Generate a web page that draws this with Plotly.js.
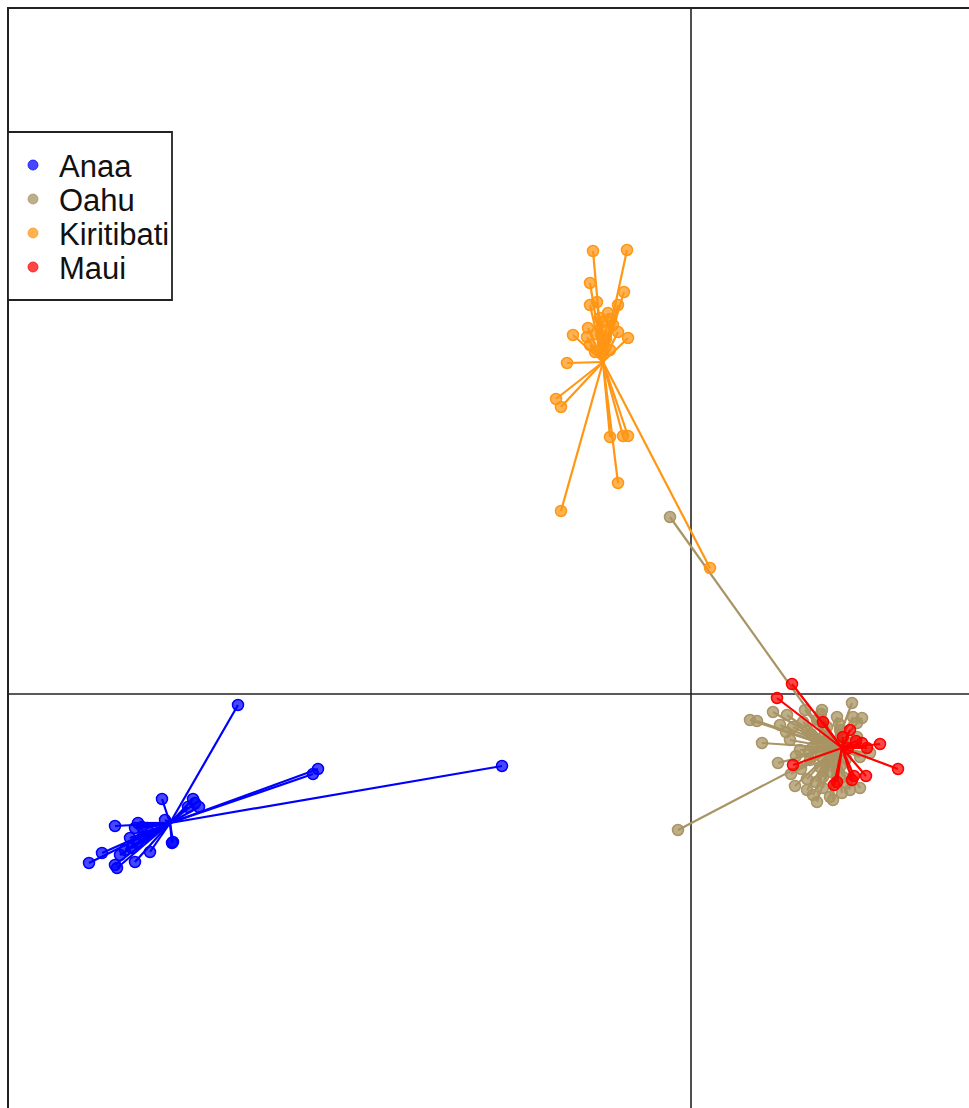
<!DOCTYPE html>
<html>
<head>
<meta charset="utf-8">
<script src="https://cdn.plot.ly/plotly-3.0.1.min.js"></script>
<style>html,body{margin:0;padding:0;background:#fff;}#chart{width:969px;height:1108px;}</style>
</head>
<body>
<div id="chart"></div>
<script>
// Group names (legend order)
var groups = ["Anaa", "Oahu", "Kiritibati", "Maui"];

// Discriminant-function scores (axis 1 = x, axis 2 = y)
var anaaX = [-4.53,-5.29,-4.98,-4.96,-4.92,-5.03,-5.76,-5.53,-5.49,-5.56,-5.44,-5.26,-5.18,-5.19,-5.61,-5.54,-5.59,-5.89,-5.71,-5.41,-6.02,-5.76,-5.74,-5.56,-5.66,-5.48,-3.73,-3.78,-1.89];
var anaaY = [-0.11,-1.05,-1.05,-1.09,-1.13,-1.13,-1.32,-1.29,-1.33,-1.34,-1.34,-1.26,-1.48,-1.49,-1.44,-1.49,-1.54,-1.59,-1.61,-1.58,-1.69,-1.71,-1.74,-1.68,-1.56,-1.43,-0.75,-0.80,-0.72];

var oahuX = [-0.21,-0.13,1.61,0.82,0.59,0.66,0.96,1.14,1.62,1.66,0.71,0.87,1.04,1.16,1.22,1.26,1.39,1.51,1.59,1.69,1.56,1.32,1.16,1.36,1.22,1.46,1.39,1.29,1.49,1.36,1.16,1.26,1.49,1.66,1.59,1.69,1.52,1.32,1.09,1.02,1.46,1.31,1.42,1.79,1.71,0.89,0.99,1.19,
             1.25,1.35,1.30,1.20,1.42,1.10,1.05,1.30,1.55,1.48,1.00,1.12,0.95,1.40,1.25,1.18,1.33,1.45];
var oahuY = [1.77,-1.36,-0.09,-0.18,-0.26,-0.27,-0.21,-0.16,-0.23,-0.29,-0.49,-0.69,-0.92,-0.85,-1.01,-1.08,-1.03,-0.99,-0.96,-0.94,-0.89,-0.94,-0.96,-0.46,-0.53,-0.56,-0.63,-0.73,-0.73,-0.33,-0.36,-0.26,-0.36,-0.43,-0.49,-0.63,-0.83,-0.83,-0.56,-0.33,-0.23,-0.16,-1.06,-0.59,-0.24,-0.31,-0.46,-0.66,
             -0.45,-0.50,-0.62,-0.40,-0.68,-0.75,-0.62,-0.20,-0.65,-0.30,-0.80,-0.28,-0.38,-0.78,-0.88,-0.58,-0.42,-0.48];

var kiriX = [-0.98,-0.64,-1.01,-0.67,-0.73,-1.01,-0.94,-0.83,-0.89,-0.78,-0.73,-0.63,-1.18,-1.04,-1.01,-1.03,-1.24,-0.81,-1.35,-1.30,-0.81,-0.68,-0.63,-0.73,-1.30,0.19,-0.91,-0.86,-0.96,-0.85,-0.95,-0.80,-0.88];
var kiriY = [4.43,4.44,4.11,4.02,3.89,3.89,3.92,3.81,3.72,3.69,3.62,3.56,3.59,3.57,3.49,3.66,3.31,3.44,2.95,2.87,2.57,2.58,2.58,2.11,1.83,1.26,3.76,3.64,3.42,3.55,3.60,3.75,3.50];

var mauiX = [1.01,0.86,1.32,1.02,1.59,1.65,1.57,1.76,1.89,2.07,1.75,1.63,1.61,1.46,1.43,1.52,1.71];
var mauiY = [0.10,-0.04,-0.28,-0.71,-0.36,-0.47,-0.54,-0.54,-0.50,-0.75,-0.82,-0.82,-0.86,-0.88,-0.91,-0.43,-0.49];

// Group centroids (star centres)
var centroidX = [-5.21, 1.44, -0.88, 1.51];
var centroidY = [-1.29, -0.54, 3.32, -0.54];

var colors = ["rgb(0,0,255)", "rgb(168,148,100)", "rgb(255,150,20)", "rgb(255,0,0)"];
var fills  = ["rgba(0,0,255,0.72)", "rgba(168,148,100,0.75)", "rgba(255,150,20,0.72)", "rgba(255,0,0,0.72)"];

var xs = [anaaX, oahuX, kiriX, mauiX];
var ys = [anaaY, oahuY, kiriY, mauiY];

var traces = [];
// star segments
for (var g = 0; g < groups.length; g++) {
  var sx = [], sy = [];
  for (var i = 0; i < xs[g].length; i++) {
    sx.push(centroidX[g], xs[g][i], null);
    sy.push(centroidY[g], ys[g][i], null);
  }
  traces.push({x: sx, y: sy, type: "scatter", mode: "lines", showlegend: false,
    hoverinfo: "skip", line: {color: colors[g], width: 2.2}});
  traces.push({x: xs[g], y: ys[g], type: "scatter", mode: "markers", name: groups[g],
    showlegend: false,
    marker: {size: 11, color: fills[g], line: {color: colors[g], width: 1.5}}});
}

var W = 969, H = 1108;
function px(v){ return v / W; }
function py(v){ return 1 - v / H; }

var shapes = [
  // frame
  {type: "rect", xref: "paper", yref: "paper", x0: px(8), x1: 1.2, y0: -0.2, y1: py(8),
   line: {color: "#222", width: 2}, layer: "below"},
  // zero axes
  {type: "line", xref: "x", yref: "paper", x0: 0, x1: 0, y0: -0.2, y1: py(8),
   line: {color: "#222", width: 1.6}, layer: "below"},
  {type: "line", xref: "paper", yref: "y", x0: px(8), x1: 1.2, y0: 0, y1: 0,
   line: {color: "#222", width: 1.6}, layer: "below"},
  // legend box
  {type: "rect", xref: "paper", yref: "paper", x0: px(8), x1: px(172), y0: py(300), y1: py(132),
   fillcolor: "white", line: {color: "#222", width: 1.8}, layer: "above"}
];
var annotations = [];
var legendY = [165, 199, 233, 267];
for (var k = 0; k < groups.length; k++) {
  shapes.push({type: "circle", xref: "paper", yref: "paper",
    x0: px(33 - 5), x1: px(33 + 5), y0: py(legendY[k] + 5), y1: py(legendY[k] - 5),
    fillcolor: fills[k], line: {color: fills[k], width: 1}, layer: "above"});
  annotations.push({xref: "paper", yref: "paper", x: px(57), y: py(legendY[k] + 1),
    xanchor: "left", yanchor: "middle", showarrow: false, text: groups[k],
    font: {family: "Liberation Sans, Arial, sans-serif", size: 31, color: "#111"}});
}

var layout = {
  width: W, height: H,
  margin: {l: 0, r: 0, t: 0, b: 0},
  paper_bgcolor: "white", plot_bgcolor: "white",
  showlegend: false,
  xaxis: {range: [(0 - 691) / 100, (969 - 691) / 100], visible: false, fixedrange: true},
  yaxis: {range: [(694 - 1108) / 100, 694 / 100], visible: false, fixedrange: true},
  shapes: shapes,
  annotations: annotations
};

Plotly.newPlot("chart", traces, layout, {staticPlot: true, displayModeBar: false});
</script>
</body>
</html>
